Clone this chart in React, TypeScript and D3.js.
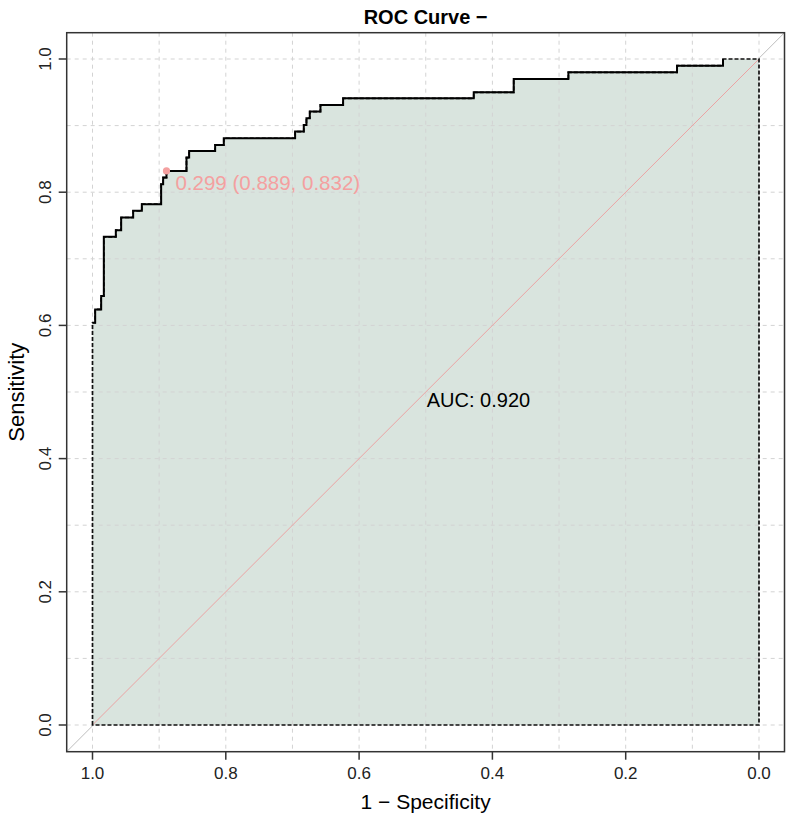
import React, {FC, useEffect, useRef} from 'react';
import * as d3 from 'd3';

// ROC step curve: each point is where the curve rises
const specificity = [
  1.0, 0.996, 0.987, 0.983, 0.965, 0.957, 0.939, 0.926, 0.897, 0.894, 0.889,
  0.859, 0.855, 0.816, 0.803, 0.696, 0.683, 0.679, 0.674, 0.658, 0.624, 0.428,
  0.368, 0.286, 0.123, 0.054,
];
const sensitivity = [
  0.604, 0.624, 0.644, 0.733, 0.743, 0.762, 0.772, 0.782, 0.812, 0.822, 0.832,
  0.852, 0.862, 0.871, 0.881, 0.891, 0.901, 0.911, 0.921, 0.931, 0.941, 0.95,
  0.97, 0.98, 0.99, 1.0,
];

const bestThreshold = 0.299;
const bestSpec = 0.889;
const bestSens = 0.832;
const auc = 0.92;

const xTicks = [1.0, 0.8, 0.6, 0.4, 0.2, 0.0];
const yTicks = [0.0, 0.2, 0.4, 0.6, 0.8, 1.0];
const gridSteps = [0, 0.1, 0.2, 0.3, 0.4, 0.5, 0.6, 0.7, 0.8, 0.9, 1.0];

const W = 792;
const H = 817;
const FONT = '"Liberation Sans", Arial, Helvetica, sans-serif';

const RocChart: FC = () => {
  const ref = useRef<SVGSVGElement>(null);

  useEffect(() => {
    const svg = d3.select(ref.current);
    svg.selectAll('*').remove();

    // plot box
    const box = {left: 66.7, right: 784.5, top: 32.7, bottom: 751.7};

    // x is specificity, reversed (1 on the left)
    const x = d3.scaleLinear().domain([1, 0]).range([92.5, 759]);
    const y = d3.scaleLinear().domain([0, 1]).range([725, 59]);

    const drawGrid = () => {
      const grid = svg.append('g');
      grid
        .selectAll('line.v')
        .data(gridSteps)
        .enter()
        .append('line')
        .attr('x1', d => x(d))
        .attr('x2', d => x(d))
        .attr('y1', box.top)
        .attr('y2', box.bottom)
        .attr('stroke', '#d3d3d3')
        .attr('stroke-width', 1)
        .attr('stroke-dasharray', '4,4');
      grid
        .selectAll('line.h')
        .data(gridSteps)
        .enter()
        .append('line')
        .attr('x1', box.left)
        .attr('x2', box.right)
        .attr('y1', d => y(d))
        .attr('y2', d => y(d))
        .attr('stroke', '#d3d3d3')
        .attr('stroke-width', 1)
        .attr('stroke-dasharray', '4,4');
    };

    // gray diagonal across the whole box
    svg
      .append('line')
      .attr('x1', box.left)
      .attr('y1', box.bottom)
      .attr('x2', box.right)
      .attr('y2', box.top)
      .attr('stroke', '#bdbdbd')
      .attr('stroke-width', 1);

    const pts: [number, number][] = specificity.map((s, i) => [s, sensitivity[i]]);

    const stepLine = d3
      .line<[number, number]>()
      .x(d => x(d[0]))
      .y(d => y(d[1]))
      .curve(d3.curveStepAfter);
    const straight = d3
      .line<[number, number]>()
      .x(d => x(d[0]))
      .y(d => y(d[1]));

    // filled area under the curve: (1,0) -> curve -> (0,1) -> (0,0)
    const stepPath = stepLine(pts) || '';
    const polyD =
      `M${x(1)},${y(0)}L${x(pts[0][0])},${y(pts[0][1])}` +
      stepPath.replace(/^M[^L]*/, '') +
      `L${x(0)},${y(1)}L${x(0)},${y(0)}Z`;

    svg
      .append('path')
      .attr('d', polyD)
      .attr('fill', '#d9e4de')
      .attr('stroke', 'none');

    // grid shows through the fill
    drawGrid();

    // pink diagonal inside the fill
    svg
      .append('path')
      .attr('d', straight([[1, 0], [0, 1]]))
      .attr('stroke', '#eba3a3')
      .attr('stroke-width', 1)
      .attr('fill', 'none');

    // dashed outline of the filled area
    svg
      .append('path')
      .attr('d', polyD)
      .attr('fill', 'none')
      .attr('stroke', '#111')
      .attr('stroke-width', 1.7)
      .attr('stroke-dasharray', '4,2');

    // ROC curve
    svg
      .append('path')
      .attr('d', stepPath)
      .attr('fill', 'none')
      .attr('stroke', '#000')
      .attr('stroke-width', 2);

    // best threshold
    svg
      .append('circle')
      .attr('cx', x(bestSpec))
      .attr('cy', y(bestSens))
      .attr('r', 3.6)
      .attr('fill', '#f4a0a0');
    svg
      .append('text')
      .attr('x', x(bestSpec) + 9)
      .attr('y', y(bestSens) + 19)
      .attr('font-family', FONT)
      .attr('font-size', 20.5)
      .attr('fill', '#f4a0a0')
      .text(`${bestThreshold.toFixed(3)} (${bestSpec.toFixed(3)}, ${bestSens.toFixed(3)})`);

    // AUC
    svg
      .append('text')
      .attr('x', x(0.5) + 1)
      .attr('y', y(0.5) + 15)
      .attr('font-family', FONT)
      .attr('font-size', 20)
      .attr('fill', '#000')
      .text(`AUC: ${auc.toFixed(3)}`);

    // box
    svg
      .append('rect')
      .attr('x', box.left)
      .attr('y', box.top)
      .attr('width', box.right - box.left)
      .attr('height', box.bottom - box.top)
      .attr('fill', 'none')
      .attr('stroke', '#333')
      .attr('stroke-width', 1.5);

    // x axis
    const xa = svg.append('g');
    xa.selectAll('line')
      .data(xTicks)
      .enter()
      .append('line')
      .attr('x1', d => x(d))
      .attr('x2', d => x(d))
      .attr('y1', box.bottom)
      .attr('y2', box.bottom + 8)
      .attr('stroke', '#333')
      .attr('stroke-width', 1.5);
    xa.selectAll('text')
      .data(xTicks)
      .enter()
      .append('text')
      .attr('x', d => x(d))
      .attr('y', box.bottom + 27)
      .attr('text-anchor', 'middle')
      .attr('font-family', FONT)
      .attr('font-size', 17)
      .attr('fill', '#222')
      .text(d => d.toFixed(1));
    svg
      .append('text')
      .attr('x', (box.left + box.right) / 2)
      .attr('y', box.bottom + 57)
      .attr('text-anchor', 'middle')
      .attr('font-family', FONT)
      .attr('font-size', 21)
      .attr('fill', '#000')
      .text('1 \u2212 Specificity');

    // y axis
    const ya = svg.append('g');
    ya.selectAll('line')
      .data(yTicks)
      .enter()
      .append('line')
      .attr('x1', box.left - 8)
      .attr('x2', box.left)
      .attr('y1', d => y(d))
      .attr('y2', d => y(d))
      .attr('stroke', '#333')
      .attr('stroke-width', 1.5);
    ya.selectAll('text')
      .data(yTicks)
      .enter()
      .append('text')
      .attr('transform', d => `translate(${box.left - 16}, ${y(d)}) rotate(-90)`)
      .attr('text-anchor', 'middle')
      .attr('font-family', FONT)
      .attr('font-size', 17)
      .attr('fill', '#222')
      .text(d => d.toFixed(1));
    svg
      .append('text')
      .attr('transform', `translate(24, ${(box.top + box.bottom) / 2}) rotate(-90)`)
      .attr('text-anchor', 'middle')
      .attr('font-family', FONT)
      .attr('font-size', 22)
      .attr('fill', '#000')
      .text('Sensitivity');

    // title
    svg
      .append('text')
      .attr('x', (box.left + box.right) / 2)
      .attr('y', 24)
      .attr('text-anchor', 'middle')
      .attr('font-family', FONT)
      .attr('font-weight', 'bold')
      .attr('font-size', 20)
      .attr('fill', '#000')
      .text('ROC Curve \u2212');
  }, []);

  return (
    <svg
      ref={ref}
      width={W}
      height={H}
      style={{position: 'absolute', left: 0, top: 0, background: '#fff'}}
    />
  );
};

const App: FC = () => <RocChart />;

export default App;
